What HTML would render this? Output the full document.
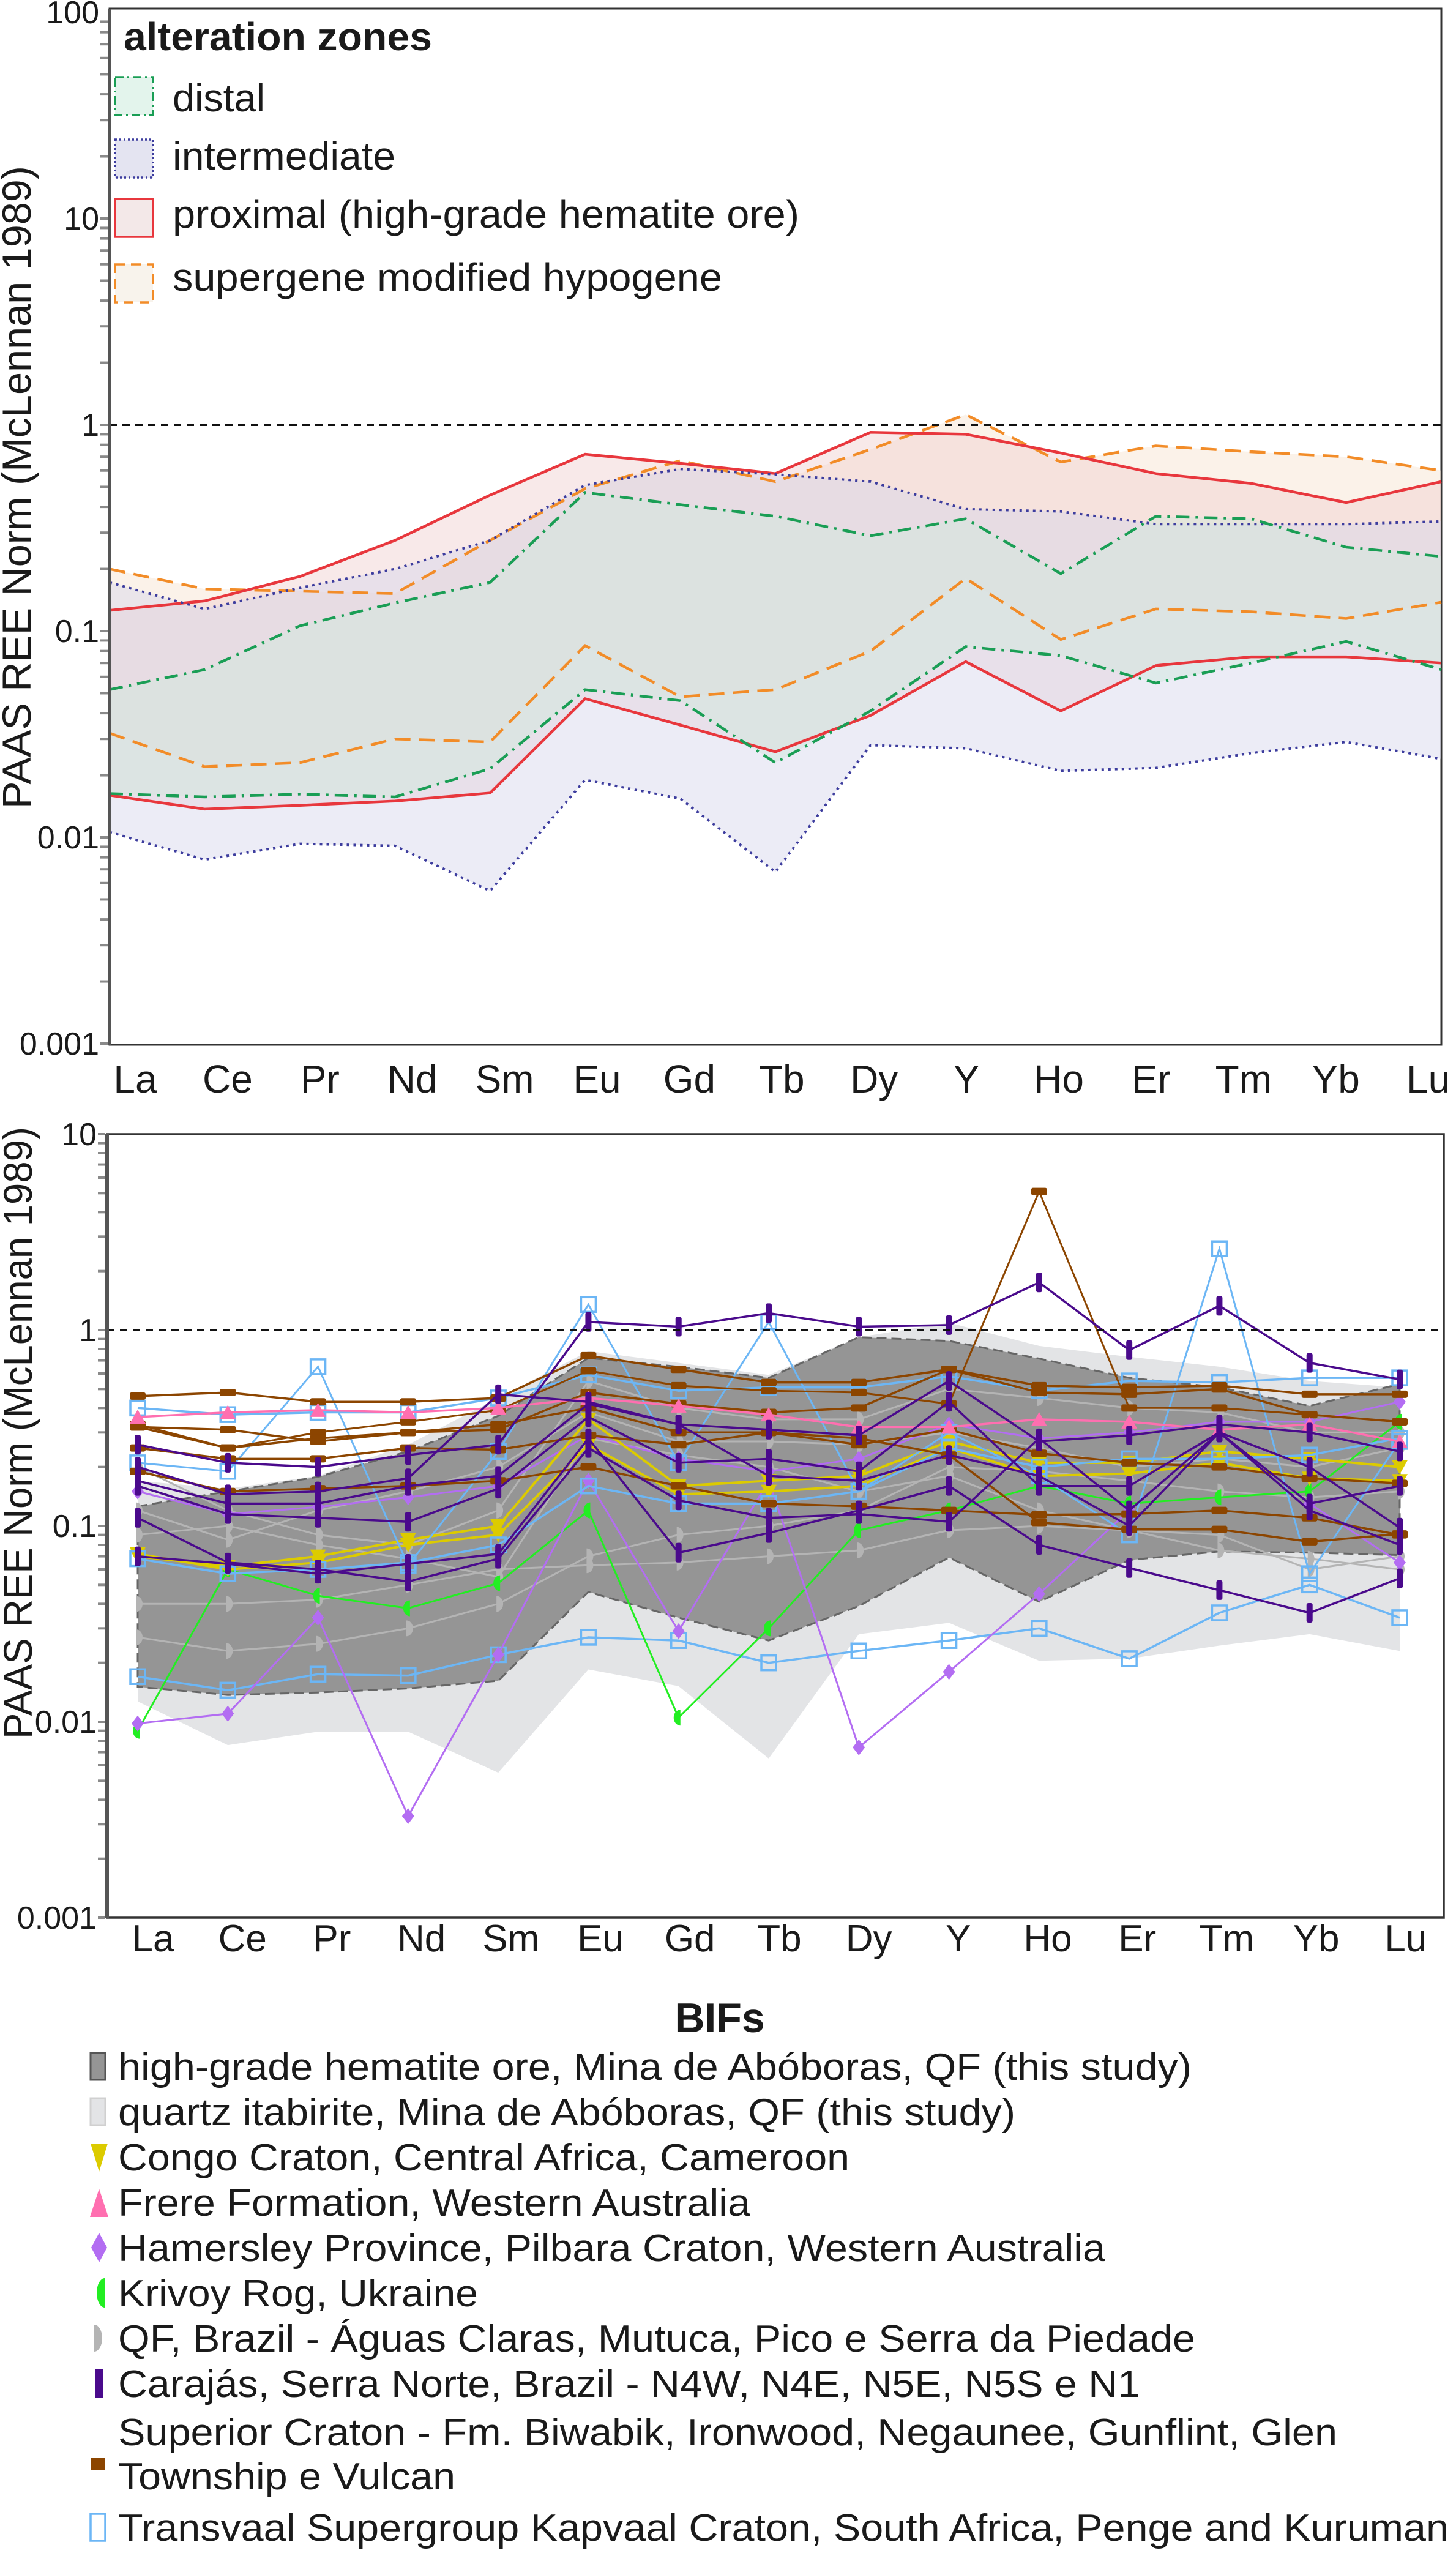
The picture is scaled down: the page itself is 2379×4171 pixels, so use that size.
<!DOCTYPE html>
<html><head><meta charset="utf-8"><style>
html,body{margin:0;padding:0;background:#fff}
svg{display:block}
text{font-family:"Liberation Sans",sans-serif;fill:#1a1a1a}
</style></head><body>
<svg id="fig" width="2379" height="4171" viewBox="0 0 2379 4171" xmlns="http://www.w3.org/2000/svg">
<rect x="0" y="0" width="2379" height="4171" fill="#fff"/>
<g id="topChart"></g>
<g id="botChart"></g>
<g id="bifLegend"></g>
</svg>
<script>
// ---------- data ----------
const elements = ["La","Ce","Pr","Nd","Sm","Eu","Gd","Tb","Dy","Y","Ho","Er","Tm","Yb","Lu"];
const tickLabelsTop = ["100","10","1","0.1","0.01","0.001"];
const tickValuesTop = [100,10,1,0.1,0.01,0.001];
const tickLabelsBot = ["10","1","0.1","0.01","0.001"];
const tickValuesBot = [10,1,0.1,0.01,0.001];

const distalUpper = [0.052,0.065,0.106,0.137,0.172,0.47,0.41,0.36,0.29,0.35,0.19,0.36,0.35,0.255,0.23];
const distalLower = [0.0163,0.0157,0.0162,0.0157,0.0215,0.052,0.046,0.023,0.041,0.084,0.076,0.056,0.07,0.089,0.065];
const interUpper = [0.172,0.128,0.162,0.2,0.275,0.51,0.61,0.575,0.53,0.39,0.38,0.33,0.33,0.33,0.34];
const interLower = [0.0106,0.0078,0.0093,0.0091,0.0055,0.019,0.0154,0.0068,0.028,0.027,0.021,0.0217,0.0256,0.029,0.024];
const proxUpper = [0.126,0.14,0.184,0.275,0.456,0.72,0.65,0.58,0.92,0.9,0.73,0.58,0.52,0.42,0.53];
const proxLower = [0.016,0.0137,0.0143,0.015,0.0164,0.047,0.035,0.026,0.039,0.071,0.041,0.068,0.075,0.075,0.07];
const superUpper = [0.2,0.16,0.156,0.152,0.275,0.49,0.67,0.53,0.76,1.12,0.66,0.79,0.74,0.7,0.6];
const superLower = [0.032,0.022,0.023,0.03,0.029,0.085,0.048,0.052,0.08,0.18,0.091,0.128,0.124,0.115,0.138];

const quartzUpper = [0.17,0.155,0.18,0.26,0.45,0.78,0.68,0.59,0.92,1.09,0.83,0.73,0.65,0.55,0.51];
const quartzLower = [0.0127,0.0076,0.0089,0.0089,0.0055,0.0185,0.0152,0.0065,0.028,0.032,0.0205,0.021,0.0245,0.028,0.023];
const oreUpper = [0.126,0.15,0.178,0.24,0.365,0.72,0.65,0.57,0.92,0.88,0.715,0.57,0.51,0.41,0.53];
const oreLower = [0.0151,0.0137,0.0141,0.0148,0.0162,0.046,0.034,0.026,0.039,0.069,0.041,0.067,0.074,0.073,0.071];

const qf1 = [0.12,0.085,0.12,0.15,0.2,0.38,0.27,0.27,0.26,0.3,0.25,0.2,0.22,0.2,0.25];
const qf2 = [0.04,0.04,0.042,0.05,0.06,0.063,0.065,0.07,0.075,0.095,0.1,0.095,0.09,0.06,0.07];
const qf3 = [0.027,0.023,0.025,0.03,0.04,0.07,0.09,0.1,0.12,0.2,0.19,0.17,0.15,0.14,0.15];
const qf4 = [0.2,0.12,0.09,0.08,0.12,0.55,0.4,0.35,0.35,0.5,0.45,0.4,0.38,0.3,0.3];
const qf5 = [0.09,0.1,0.08,0.068,0.055,0.28,0.23,0.2,0.15,0.18,0.12,0.095,0.075,0.068,0.06];

const sup1 = [0.46,0.48,0.43,0.43,0.45,0.74,0.63,0.54,0.54,0.63,0.52,0.51,0.52,0.47,0.47];
const sup2 = [0.33,0.25,0.3,0.34,0.39,0.62,0.52,0.49,0.48,0.42,5.1,0.4,0.4,0.37,0.34];
const sup3 = [0.32,0.31,0.27,0.3,0.31,0.48,0.42,0.38,0.4,0.63,0.48,0.47,0.5,0.37,0.34];
const sup4 = [0.25,0.22,0.22,0.25,0.245,0.29,0.26,0.3,0.26,0.31,0.235,0.21,0.2,0.175,0.165];
const sup5 = [0.19,0.15,0.155,0.16,0.17,0.2,0.16,0.13,0.126,0.12,0.114,0.115,0.12,0.11,0.09];
const sup6 = [0.32,0.25,0.28,0.3,0.33,0.4,0.3,0.3,0.28,0.23,0.104,0.096,0.096,0.083,0.091];

const car1 = [0.26,0.21,0.2,0.23,0.26,1.1,1.04,1.22,1.04,1.06,1.75,0.79,1.33,0.68,0.56];
const car2 = [0.17,0.13,0.13,0.16,0.18,0.42,0.33,0.31,0.29,0.55,0.27,0.29,0.33,0.3,0.24];
const car3 = [0.16,0.115,0.11,0.105,0.155,0.36,0.21,0.22,0.19,0.43,0.16,0.16,0.3,0.13,0.16];
const car4 = [0.11,0.065,0.06,0.052,0.068,0.25,0.135,0.11,0.115,0.105,0.28,0.12,0.3,0.2,0.098];
const car5 = [0.07,0.064,0.057,0.064,0.072,0.28,0.073,0.092,0.12,0.16,0.08,0.061,0.047,0.036,0.054];
const car6 = [0.2,0.145,0.15,0.175,0.47,0.43,0.33,0.18,0.17,0.23,0.18,0.1,0.3,0.12,0.08];

const tv1 = [0.4,0.37,0.38,0.38,0.45,0.59,0.49,0.51,0.51,0.58,0.49,0.55,0.54,0.57,0.57];
const tv2 = [0.21,0.19,0.65,0.063,0.24,1.35,0.21,1.1,0.15,0.3,0.18,0.09,2.6,0.057,0.27];
const tv3 = [0.068,0.057,0.06,0.065,0.08,0.16,0.13,0.13,0.15,0.25,0.2,0.22,0.22,0.23,0.28];
const tv4 = [0.017,0.0145,0.0175,0.0172,0.022,0.027,0.026,0.02,0.023,0.026,0.03,0.021,0.036,0.05,0.034];

const congo1 = [0.07,0.062,0.07,0.085,0.1,0.35,0.16,0.17,0.18,0.27,0.21,0.21,0.24,0.22,0.2];
const congo2 = [0.072,0.06,0.065,0.08,0.09,0.26,0.145,0.15,0.16,0.25,0.18,0.185,0.21,0.175,0.17];
const frere = [0.36,0.38,0.39,0.38,0.4,0.45,0.41,0.37,0.32,0.32,0.35,0.34,0.31,0.33,0.27];
const ham1 = [0.15,0.115,0.125,0.14,0.16,0.29,0.22,0.19,0.22,0.33,0.28,0.3,0.34,0.34,0.43];
const ham2 = [0.0098,0.011,0.034,0.0033,0.022,0.17,0.029,0.17,0.0074,0.018,0.045,0.12,0.3,0.13,0.065];
const krivoy = [0.009,0.06,0.044,0.038,0.051,0.12,0.0105,0.03,0.095,0.12,0.16,0.13,0.14,0.15,0.34];

// ---------- helpers ----------
const NS="http://www.w3.org/2000/svg";
function mk(parent,tag,attrs,txt){const e=document.createElementNS(NS,tag);for(const k in attrs)e.setAttribute(k,attrs[k]);if(txt!==undefined)e.textContent=txt;parent.appendChild(e);return e;}

const TF={x0:179,x1:2355,y0:14,y1:1707};
const txi=i=>TF.x0+i*(TF.x1-TF.x0)/14;
const ty=v=>1705-337*(Math.log10(v)+3);
const BF={x0:175,x1:2359,y0:1853,y1:3133};
const bxi=i=>225+i*(2287-225)/14;
const by=v=>3133-320*(Math.log10(v)+3);

function pts(arr,fx,fy){return arr.map((v,i)=>fx(i).toFixed(1)+","+fy(v).toFixed(1)).join(" ");}
function bandPts(up,lo,fx,fy){return pts(up,fx,fy)+" "+lo.map((v,i)=>[i,v]).reverse().map(([i,v])=>fx(i).toFixed(1)+","+fy(v).toFixed(1)).join(" ");}

function yAxis(g,fy,vals,labels,xa,ytop,ybot){
  for(let d=-3;d<2;d++){for(let m=1;m<10;m++){const v=m*Math.pow(10,d);const y=fy(v);if(y<ytop-2||y>ybot+2)continue;
    const t=mk(g,"line",{x1:xa-12,x2:xa,y1:y,y2:y,stroke:"#8a8a8a","stroke-width":4});
    
    }}
  vals.forEach((v,i)=>{const t=mk(g,"text",{x:xa-14,y:fy(v)+18,"text-anchor":"end","font-size":52},labels[i]);
    
    });
}

// ---------- top chart ----------
const topG=document.getElementById('topChart');
mk(topG,"rect",{x:TF.x0,y:TF.y0,width:TF.x1-TF.x0,height:TF.y1-TF.y0,fill:"#fff",stroke:"#333","stroke-width":3,});
const bands=[
 {n:"supergene",u:superUpper,l:superLower,c:"#f28c28",f:"#f7e3cf",d:"26,14"},
 {n:"proximal",u:proxUpper,l:proxLower,c:"#e8373d",f:"#efcfcf",d:""},
 {n:"intermediate",u:interUpper,l:interLower,c:"#3d3d9e",f:"#d4d4ea",d:"4,7"},
 {n:"distal",u:distalUpper,l:distalLower,c:"#1a9e55",f:"#cfe9dc",d:"22,10,4,10"}
];
bands.forEach(b=>{
  const p=mk(topG,"polygon",{points:bandPts(b.u,b.l,txi,ty),fill:b.f,"fill-opacity":0.45,stroke:"none"});
  
  
});
bands.forEach(b=>{
  [b.u,b.l].forEach((arr,k)=>{
    const a={points:pts(arr,txi,ty),fill:"none",stroke:b.c,"stroke-width":b.n==="intermediate"?4:4.5};
    if(b.d)a["stroke-dasharray"]=b.d;
    const l=mk(topG,"polyline",a);
    
    
  });
});
mk(topG,"line",{x1:TF.x0,x2:TF.x1,y1:ty(1),y2:ty(1),stroke:"#111","stroke-width":4,"stroke-dasharray":"12,9",});
mk(topG,"line",{x1:TF.x0,x2:TF.x0,y1:TF.y0,y2:TF.y1,stroke:"#555","stroke-width":6,});
yAxis(topG,ty,tickValuesTop,tickLabelsTop,TF.x0-3,TF.y0,TF.y1);
elements.forEach((e,i)=>{const t=mk(topG,"text",{x:221+i*150.9,y:1785,"text-anchor":"middle","font-size":64},e);
  
  });
mk(topG,"text",{x:0,y:0,transform:"translate(50,1321) rotate(-90)","font-size":66,textLength:1050,lengthAdjust:"spacingAndGlyphs",},"PAAS REE Norm (McLennan 1989)");
mk(topG,"text",{x:202,y:82,"font-size":64,"font-weight":"bold",textLength:504,lengthAdjust:"spacingAndGlyphs",},"alteration zones");
const legTop=[
 {t:"distal",y:126,base:182,w:151,c:"#1a9e55",f:"#e3f4ec",d:"14,6,3,6"},
 {t:"intermediate",y:228,base:277,w:364,c:"#3d3d9e",f:"#e4e4f1",d:"3,4"},
 {t:"proximal (high-grade hematite ore)",y:325,base:372,w:1024,c:"#e8373d",f:"#f3e8e8",d:""},
 {t:"supergene modified hypogene",y:432,base:475,w:898,c:"#f28c28",f:"#f8f3ec",d:"16,10"}
];
legTop.forEach(L=>{
  const g=mk(topG,"g",{});
  
  
  const a={x:188,y:L.y,width:62,height:62,fill:L.f,stroke:L.c,"stroke-width":3.5};
  if(L.d)a["stroke-dasharray"]=L.d;
  mk(g,"rect",a);
  mk(g,"text",{x:282,y:L.base,"font-size":64,textLength:L.w,lengthAdjust:"spacingAndGlyphs"},L.t);
});

// ---------- bottom chart ----------
const botG=document.getElementById('botChart');
mk(botG,"rect",{x:BF.x0,y:BF.y0,width:BF.x1-BF.x0,height:BF.y1-BF.y0,fill:"#fff",stroke:"#333","stroke-width":3.5,});
const qz=mk(botG,"polygon",{points:bandPts(quartzUpper,quartzLower,bxi,by),fill:"#e3e4e6",stroke:"none"});


const ore=mk(botG,"polygon",{points:bandPts(oreUpper,oreLower,bxi,by),fill:"#959595",stroke:"#666","stroke-width":3,"stroke-dasharray":"16,8"});



function marker(g,kind,x,y,c){
  if(kind==="sq")mk(g,"rect",{x:x-12,y:y-12,width:24,height:24,fill:"none",stroke:c,"stroke-width":3.5});
  else if(kind==="bar")mk(g,"rect",{x:x-5,y:y-16,width:10,height:32,fill:c,rx:3});
  else if(kind==="brick")mk(g,"rect",{x:x-13,y:y-6,width:26,height:12,fill:c,rx:3});
  else if(kind==="dtri")mk(g,"polygon",{points:`${x-13},${y-11} ${x+13},${y-11} ${x},${y+12}`,fill:c});
  else if(kind==="utri")mk(g,"polygon",{points:`${x-13},${y+11} ${x+13},${y+11} ${x},${y-12}`,fill:c});
  else if(kind==="dia")mk(g,"polygon",{points:`${x},${y-13} ${x+10},${y} ${x},${y+13} ${x-10},${y}`,fill:c});
  else if(kind==="half")mk(g,"path",{d:`M${x+3},${y-13} A11,13 0 0 0 ${x+3},${y+13} Z`,fill:c});
  else if(kind==="halfr")mk(g,"path",{d:`M${x-3},${y-13} A11,13 0 0 1 ${x-3},${y+13} Z`,fill:c});
}
const seriesList=[
 {n:"qf-1",d:qf1,c:"#b4b4b4",m:"halfr",w:3},
 {n:"qf-2",d:qf2,c:"#b4b4b4",m:"halfr",w:3},
 {n:"qf-3",d:qf3,c:"#b4b4b4",m:"halfr",w:3},
 {n:"qf-4",d:qf4,c:"#b4b4b4",m:"halfr",w:3},
 {n:"qf-5",d:qf5,c:"#b4b4b4",m:"halfr",w:3},
 {n:"transvaal-4",d:tv4,c:"#6cb6f5",m:"sq",w:3.5},
 {n:"krivoy-rog",d:krivoy,c:"#22ee22",m:"half",w:3},
 {n:"hamersley-2",d:ham2,c:"#b36df2",m:"dia",w:3},
 {n:"hamersley-1",d:ham1,c:"#b36df2",m:"dia",w:3},
 {n:"congo-1",d:congo1,c:"#dccb00",m:"dtri",w:4},
 {n:"congo-2",d:congo2,c:"#dccb00",m:"dtri",w:4},
 {n:"transvaal-3",d:tv3,c:"#6cb6f5",m:"sq",w:3.5},
 {n:"transvaal-2",d:tv2,c:"#6cb6f5",m:"sq",w:3},
 {n:"transvaal-1",d:tv1,c:"#6cb6f5",m:"sq",w:3.5},
 {n:"superior-1",d:sup1,c:"#8c4500",m:"brick",w:3.5},
 {n:"superior-2",d:sup2,c:"#8c4500",m:"brick",w:3},
 {n:"superior-3",d:sup3,c:"#8c4500",m:"brick",w:3.5},
 {n:"superior-4",d:sup4,c:"#8c4500",m:"brick",w:3.5},
 {n:"superior-5",d:sup5,c:"#8c4500",m:"brick",w:3.5},
 {n:"superior-6",d:sup6,c:"#8c4500",m:"brick",w:3.5},
 {n:"frere",d:frere,c:"#ff6fb0",m:"utri",w:3.5},
 {n:"carajas-1",d:car1,c:"#4a0a8c",m:"bar",w:3.5},
 {n:"carajas-2",d:car2,c:"#4a0a8c",m:"bar",w:3.5},
 {n:"carajas-3",d:car3,c:"#4a0a8c",m:"bar",w:3.5},
 {n:"carajas-4",d:car4,c:"#4a0a8c",m:"bar",w:3.5},
 {n:"carajas-5",d:car5,c:"#4a0a8c",m:"bar",w:3.5},
 {n:"carajas-6",d:car6,c:"#4a0a8c",m:"bar",w:3.5}
];
seriesList.forEach(s=>{
  const g=mk(botG,"g",{});
  
  
  mk(g,"polyline",{points:pts(s.d,bxi,by),fill:"none",stroke:s.c,"stroke-width":s.w});
  s.d.forEach((v,i)=>marker(g,s.m,bxi(i),by(v),s.c));
});
mk(botG,"line",{x1:BF.x0,x2:BF.x1,y1:by(1),y2:by(1),stroke:"#111","stroke-width":4,"stroke-dasharray":"12,9",});
mk(botG,"line",{x1:BF.x0,x2:BF.x0,y1:BF.y0,y2:BF.y1,stroke:"#555","stroke-width":6,});
yAxis(botG,by,tickValuesBot,tickLabelsBot,BF.x0-3,BF.y0,BF.y1);
elements.forEach((e,i)=>{const t=mk(botG,"text",{x:250+i*146.2,y:3188,"text-anchor":"middle","font-size":62},e);
  
  });
mk(botG,"text",{x:0,y:0,transform:"translate(52,2841) rotate(-90)","font-size":66,textLength:1000,lengthAdjust:"spacingAndGlyphs",},"PAAS REE Norm (McLennan 1989)");

// ---------- BIFs legend ----------
const legG=document.getElementById('bifLegend');
mk(legG,"text",{x:1176,y:3320,"text-anchor":"middle","font-size":68,"font-weight":"bold",},"BIFs");
const legRows=[
 {t:"high-grade hematite ore, Mina de Abóboras, QF (this study)",b:3398,w:1754,k:"ore"},
 {t:"quartz itabirite, Mina de Abóboras, QF (this study)",b:3472,w:1466,k:"qz"},
 {t:"Congo Craton, Central Africa, Cameroon",b:3546,w:1195,k:"dtri",c:"#dccb00"},
 {t:"Frere Formation, Western Australia",b:3620,w:1033,k:"utri",c:"#ff6fb0"},
 {t:"Hamersley Province, Pilbara Craton, Western Australia",b:3694,w:1613,k:"dia",c:"#b36df2"},
 {t:"Krivoy Rog, Ukraine",b:3768,w:588,k:"half",c:"#22ee22"},
 {t:"QF, Brazil - Águas Claras, Mutuca, Pico e Serra da Piedade",b:3842,w:1760,k:"halfr",c:"#b4b4b4"},
 {t:"Carajás, Serra Norte, Brazil - N4W, N4E, N5E, N5S e N1",b:3916,w:1670,k:"bar",c:"#4a0a8c"},
 {t:"Superior Craton - Fm. Biwabik, Ironwood, Negaunee, Gunflint, Glen",b:3995,w:1992,k:"brick",c:"#8c4500",t2:"Township e Vulcan",b2:4067,w2:551},
 {t:"Transvaal Supergroup Kapvaal Craton, South Africa, Penge and Kuruman",b:4151,w:2174,k:"sq",c:"#6cb6f5"}
];
legRows.forEach((r,i)=>{
  const g=mk(legG,"g",{});
  
  
  const cy=r.b-22, mx=162;
  if(r.k==="ore")mk(g,"rect",{x:148,y:cy-22,width:24,height:44,fill:"#959595",stroke:"#555","stroke-width":3});
  else if(r.k==="qz")mk(g,"rect",{x:148,y:cy-22,width:24,height:44,fill:"#e3e4e6",stroke:"#d0d0d0","stroke-width":3});
  else if(r.k==="dtri")mk(g,"polygon",{points:`${mx-14},${cy-22} ${mx+14},${cy-22} ${mx},${cy+24}`,fill:r.c});
  else if(r.k==="utri")mk(g,"polygon",{points:`${mx-15},${cy+24} ${mx+15},${cy+24} ${mx},${cy-22}`,fill:r.c});
  else if(r.k==="dia")mk(g,"polygon",{points:`${mx},${cy-24} ${mx+13},${cy} ${mx},${cy+24} ${mx-13},${cy}`,fill:r.c});
  else if(r.k==="half")mk(g,"path",{d:`M${mx+9},${cy-24} A13,24 0 0 0 ${mx+9},${cy+24} Z`,fill:r.c});
  else if(r.k==="halfr")mk(g,"path",{d:`M${mx-8},${cy-22} A13,22 0 0 1 ${mx-8},${cy+22} Z`,fill:r.c});
  else if(r.k==="bar")mk(g,"rect",{x:mx-6,y:cy-24,width:12,height:48,fill:r.c});
  else if(r.k==="brick")mk(g,"rect",{x:148,y:4016,width:24,height:20,fill:r.c});
  else if(r.k==="sq")mk(g,"rect",{x:148,y:cy-22,width:24,height:44,fill:"none",stroke:r.c,"stroke-width":3.5});
  mk(g,"text",{x:193,y:r.b,"font-size":62,textLength:r.w,lengthAdjust:"spacingAndGlyphs"},r.t);
  if(r.t2)mk(g,"text",{x:193,y:r.b2,"font-size":62,textLength:r.w2,lengthAdjust:"spacingAndGlyphs"},r.t2);
});
</script>
</body></html>
